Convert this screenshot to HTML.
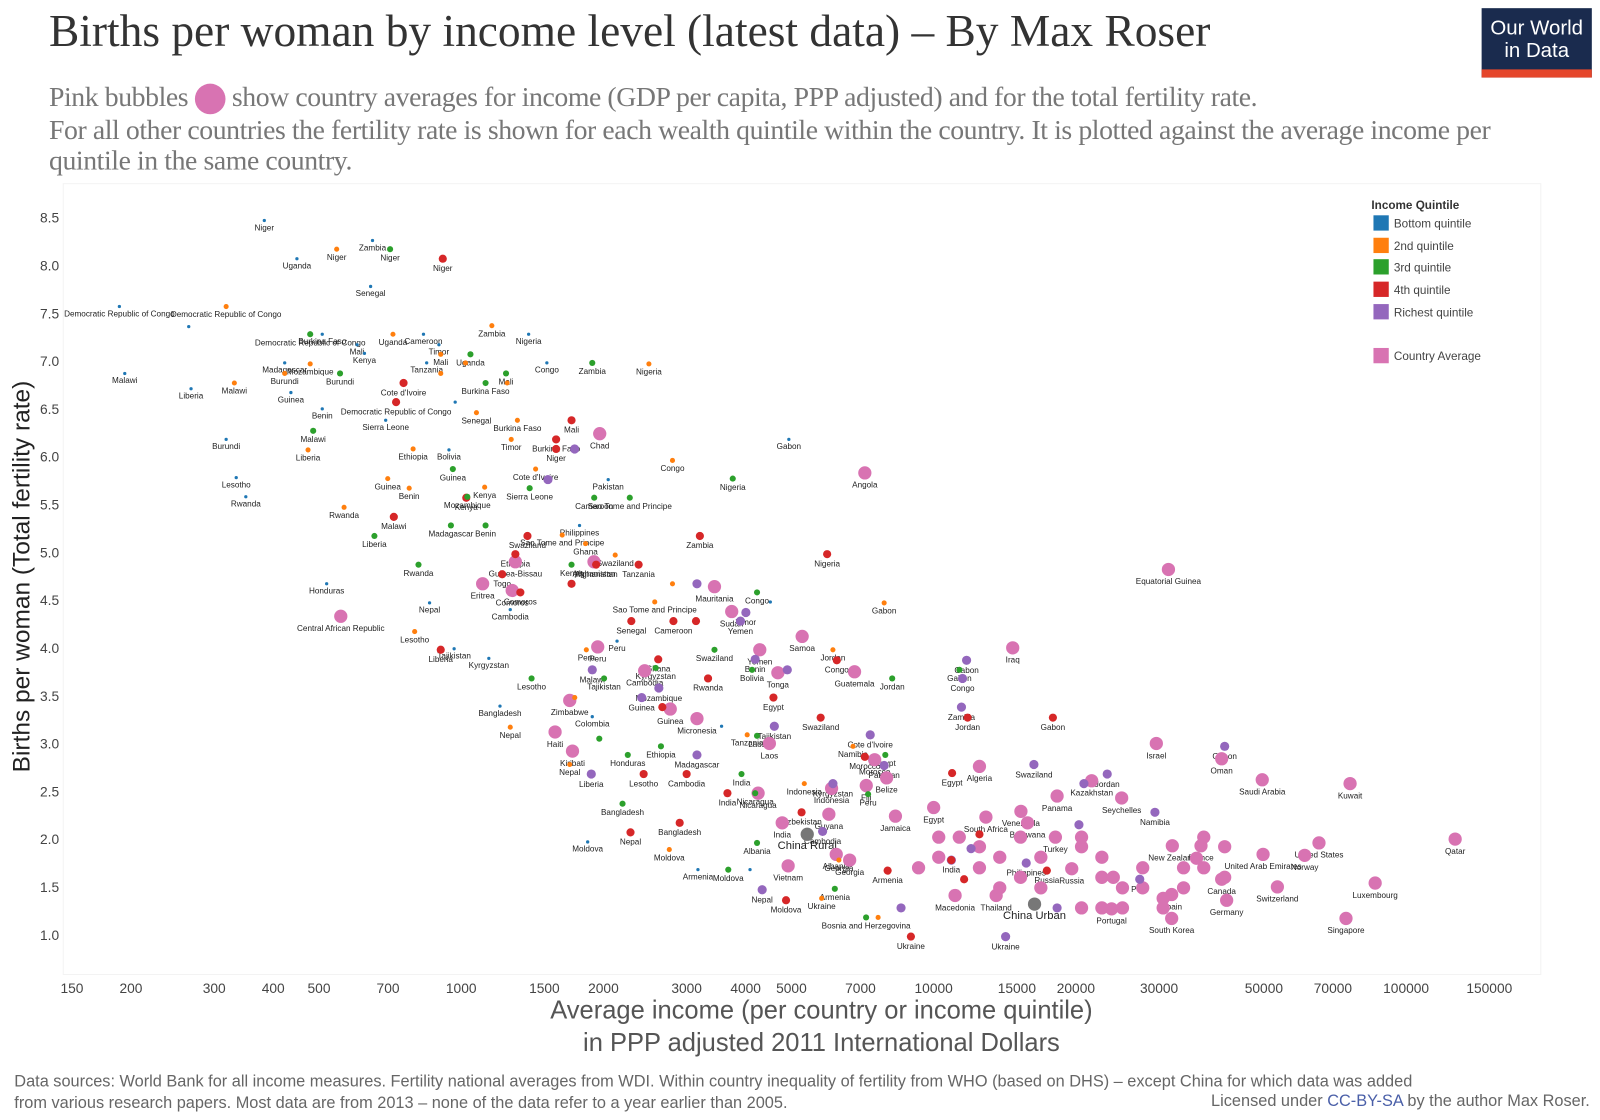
<!DOCTYPE html>
<html><head><meta charset="utf-8">
<style>
html,body{margin:0;padding:0;background:#fff;}
body{width:1600px;height:1120px;position:relative;overflow:hidden;font-family:"Liberation Sans",sans-serif;}
#wrap{position:absolute;left:0;top:0;width:1568px;height:1098px;transform:scale(1.0204);transform-origin:0 0;}
.title{position:absolute;left:48px;top:4px;font-family:"Liberation Serif",serif;font-size:44.5px;color:#333;white-space:nowrap;}
.sub{position:absolute;left:48px;top:80px;font-family:"Liberation Serif",serif;font-size:27.2px;color:#777;line-height:30px;width:1520px;white-space:nowrap;letter-spacing:-0.4px;}
.logo{position:absolute;left:1452px;top:8px;width:108px;height:68px;background:#1a2b4e;color:#fff;text-align:center;font-size:20px;line-height:22px;}
.logo .bar{position:absolute;left:0;bottom:0;width:108px;height:8px;background:#e5462b;}
.foot{position:absolute;left:14px;top:1050px;font-size:16px;color:#666;line-height:21px;}
.lic{position:absolute;right:10px;top:1071px;font-size:16px;color:#666;}
</style></head><body>
<div id="wrap">
<div class="title">Births per woman by income level (latest data) – By Max Roser</div>
<div class="logo"><div style="padding-top:9px">Our World<br>in Data</div><div class="bar"></div></div>
<div class="sub">Pink bubbles <span style="display:inline-block;width:30px;height:30px;border-radius:50%;background:#d873b2;vertical-align:-8px"></span> show country averages for income (GDP per capita, PPP adjusted) and for the total fertility rate.<br>For all other countries the fertility rate is shown for each wealth quintile within the country. It is plotted against the average income per<br>quintile in the same country.</div>
<svg id="chart" width="1568" height="1098" style="position:absolute;left:0;top:0" xmlns="http://www.w3.org/2000/svg"></svg>
<div class="foot">Data sources: World Bank for all income measures. Fertility national averages from WDI. Within country inequality of fertility from WHO (based on DHS) – except China for which data was added<br>from various research papers. Most data are from 2013 – none of the data refer to a year earlier than 2005.</div>
<div class="lic">Licensed under <span style="color:#4a5fa8">CC-BY-SA</span> by the author Max Roser.</div>
</div>
<script>
const xTicks=[150,200,300,400,500,700,1000,1500,2000,3000,4000,5000,7000,10000,15000,20000,30000,50000,70000,100000,150000];
const yTicks=[1.0,1.5,2.0,2.5,3.0,3.5,4.0,4.5,5.0,5.5,6.0,6.5,7.0,7.5,8.0,8.5];
const q1Income=[383,649,449,189,265,508,602,832,897,1389,423,194,624,845,1518,268,436,508,971,692,318,942,4937,334,350,2047,1780,519,857,1270,4511,1144,2137,966,1208,1894,3557,1852,3170,4086,643];
const q1Fert=[8.47,8.26,8.07,7.57,7.36,7.28,7.17,7.28,7.17,7.28,6.98,6.87,7.08,6.98,6.98,6.71,6.67,6.5,6.57,6.38,6.18,6.07,6.18,5.78,5.58,5.76,5.28,4.67,4.47,4.4,4.48,3.89,4.07,3.99,3.39,3.28,3.18,1.97,1.68,1.68,7.78];
const q1Label=["Niger","Zambia","Uganda","Democratic Republic of Congo","","Burkina Faso","Mali","Cameroon","Timor","Nigeria","Madagascar","Malawi","Kenya","Tanzania","Congo","Liberia","Guinea","Benin","","Sierra Leone","Burundi","Bolivia","Gabon","Lesotho","Rwanda","Pakistan","Philippines","Honduras","Nepal","Cambodia","","Kyrgyzstan","Peru","Tajikistan","Bangladesh","Colombia","","Moldova","Armenia","","Senegal"];
const q2Income=[545,318,1161,717,905,479,2496,423,331,1251,1077,1315,1276,474,791,2800,1437,699,776,1121,565,1636,1833,2118,2568,7856,2800,797,6120,1840,1739,1270,1697,4030,5323,6300,2757,5793,7628,6750,905,1021];
const q2Fert=[8.17,7.57,7.37,7.28,7.07,6.97,6.97,6.87,6.77,6.77,6.46,6.38,6.18,6.07,6.08,5.96,5.87,5.77,5.67,5.68,5.47,5.18,5.09,4.97,4.48,4.47,4.67,4.17,3.98,3.98,3.48,3.17,2.78,3.09,2.58,1.78,1.89,1.38,1.18,2.97,6.87,6.98];
const q2Label=["Niger","Democratic Republic of Congo","Zambia","Uganda","Mali","Mozambique","Nigeria","Burundi","Malawi","","Senegal","Burkina Faso","Timor","Liberia","Ethiopia","Congo","Cote d'Ivoire","Guinea","Benin","Kenya","Rwanda","Sao Tome and Principe","Ghana","Swaziland","Sao Tome and Principe","Gabon","","Lesotho","Jordan","Peru","","Nepal","Nepal","Tanzania","Indonesia","Georgia","Moldova","Ukraine","","Namibia","",""];
const q3Income=[707,479,1046,1244,554,1894,1126,486,960,1396,3756,1912,1030,951,1126,655,812,2274,1712,4228,3436,2006,1409,2580,8170,11336,4127,2252,2647,2195,3920,4228,6177,3675,4228,7900,7265,7194,4190,1960];
const q3Fert=[8.17,7.28,7.07,6.87,6.87,6.98,6.77,6.27,5.87,5.67,5.77,5.57,5.58,5.28,5.28,5.17,4.87,5.57,4.87,4.58,3.98,3.68,3.68,3.79,3.68,3.77,3.77,2.88,2.97,2.37,2.68,3.08,1.48,1.68,1.96,2.88,2.47,1.18,2.48,3.05];
const q3Label=["Niger","Democratic Republic of Congo","Uganda","Mali","Burundi","Zambia","Burkina Faso","Malawi","Guinea","Sierra Leone","Nigeria","Cameroon","Mozambique","Madagascar","Benin","Liberia","Rwanda","Sao Tome and Principe","Kenya","Congo","Swaziland","Tajikistan","Lesotho","Kyrgyzstan","Jordan","Gabon","Bolivia","Honduras","Ethiopia","Bangladesh","India","Laos","Armenia","Moldova","Albania","Egypt","Peru","Bosnia and Herzegovina","Nicaragua",""];
const q4Income=[914,755,728,1712,1588,1588,720,1025,1381,1302,3200,5950,2374,1221,1334,1930,1712,2291,2813,3140,905,2612,6237,3330,4580,5765,2665,11800,17880,3000,2433,3660,2900,2282,5253,4870,8950,10940,7150,10900,7990,17360,12500,11600];
const q4Fert=[8.07,6.77,6.57,6.38,6.18,6.08,5.37,5.57,5.17,4.98,5.17,4.98,4.87,4.77,4.58,4.87,4.67,4.28,4.28,4.28,3.98,3.88,3.87,3.68,3.48,3.27,3.38,3.27,3.27,2.68,2.68,2.48,2.17,2.07,2.28,1.36,0.98,2.69,2.86,1.78,1.67,1.67,2.05,1.58];
const q4Label=["Niger","Cote d'Ivoire","Democratic Republic of Congo","Mali","Burkina Faso","Niger","Malawi","Kenya","Swaziland","Ethiopia","Zambia","Nigeria","Tanzania","Togo","Comoros","Afghanistan","","Senegal","Cameroon","","Liberia","Ghana","Congo","Rwanda","Egypt","Swaziland","","Jordan","Gabon","Cambodia","Lesotho","India","Bangladesh","Nepal","Uzbekistan","Moldova","Ukraine","Egypt","Morocco","India","Armenia","Russia","",""];
const q5Income=[1738,1526,3155,4004,3900,4190,4900,1894,2620,2410,4600,7340,3155,7856,11450,11740,11510,41300,16300,23300,20800,29400,5820,27300,14200,8530,4335,18250,1885,6120,10900,15700,20300,12000];
const q5Fert=[6.08,5.76,4.67,4.37,4.28,3.88,3.77,3.77,3.58,3.48,3.18,3.09,2.88,2.77,3.38,3.87,3.68,2.97,2.78,2.68,2.58,2.28,2.08,1.58,0.98,1.28,1.47,1.28,2.68,2.58,1.78,1.75,2.15,1.9];
const q5Label=["","","","Timor","Yemen","Benin","","Malawi","Mozambique","Guinea","Tajikistan","Cote d'Ivoire","Madagascar","Pakistan","Zambia","Gabon","Congo","Gabon","Swaziland","Jordan","","Namibia","Cambodia","Peru","Ukraine","","Nepal","","Liberia","Kyrgyzstan","","Philippines","",""];
const avgIncome=[1964,7150,31400,556,1110,1302,1282,1910,3436,3737,4285,5268,14700,4680,6800,1697,2445,1945,3155,2770,1580,1720,4490,4250,29600,40700,49600,76100,127000,74600,86000,53400,65400,61000,49800,41700,31900,31900,23800,40700,36800,32000,18250,15300,12900,15800,12500,10000,18100,19600,13560,11100,6000,7950,7200,8300,7500,4780,4920,6640,6080,21600,25000,6220,20560,22700,22700,25100,27700,30600,33800,37300,41300,37300,25100,22700,20560,16860,15270,13800,12500,11330,10250,9290,13800,16860,20560,27700,33800,41300,30600,12500,10250,15270,24000,36000];
const avgFert=[6.24,5.83,4.82,4.33,4.67,4.9,4.6,4.9,4.64,4.38,3.98,4.12,4.0,3.74,3.75,3.45,3.76,4.01,3.26,3.36,3.12,2.92,3.0,2.48,3.0,2.84,2.62,2.58,2.0,1.17,1.54,1.5,1.96,1.83,1.84,1.36,1.42,1.17,1.27,1.58,1.93,1.93,2.45,2.29,2.23,2.17,2.76,2.33,2.02,1.69,1.41,1.41,2.26,2.64,2.56,2.24,2.83,2.17,1.72,1.78,2.53,2.61,2.43,1.84,1.92,1.81,1.6,1.49,1.49,1.38,1.49,1.7,1.92,2.02,1.28,1.28,1.28,1.49,1.6,1.81,1.92,2.02,1.81,1.7,1.49,1.81,2.02,1.7,1.7,1.6,1.28,1.7,2.02,2.02,1.6,1.8];
const avgLabel=["Chad","Angola","Equatorial Guinea","Central African Republic","Eritrea","Guinea-Bissau","Comoros","Afghanistan","Mauritania","Sudan","Yemen","Samoa","Iraq","Tonga","Guatemala","Zimbabwe","Cambodia","Peru","Micronesia","Guinea","Haiti","Kiribati","Laos","Nicaragua","Israel","Oman","Saudi Arabia","Kuwait","Qatar","Singapore","Luxembourg","Switzerland","United States","Norway","United Arab Emirates","Germany","Spain","South Korea","Portugal","Canada","France","New Zealand","Panama","Venezuela","South Africa","Botswana","Algeria","Egypt","Turkey","Russia","Thailand","Macedonia","Guyana","Belize","Fiji","Jamaica","Morocco","India","Vietnam","Georgia","Indonesia","Kazakhstan","Seychelles","Albania","","","","","","","","","","","","","","","","","","","","","","","","","","","","","","",""];
const chinaIncome=[5400,16350];
const chinaFert=[2.05,1.32];
const chinaLabel=["China Rural","China Urban"];

const NS="http://www.w3.org/2000/svg";
const svg=document.getElementById('chart');
function X(v){return 452+(Math.log10(v)-3)*463;}
function Y(v){return 916-(v-1)*93.7;}
function mk(tag,attrs,parent){const e=document.createElementNS(NS,tag);for(const k in attrs)e.setAttribute(k,attrs[k]);(parent||svg).appendChild(e);return e;}

const bg=mk('rect',{x:62,y:180,width:1448,height:775,fill:'#fff',stroke:'#f3f3f3'});



xTicks.forEach(t=>{const e=mk('text',{x:X(t),y:973,'text-anchor':'middle','font-size':13.5,fill:'#444'});e.textContent=t;

});
yTicks.forEach(t=>{const e=mk('text',{x:58,y:Y(t)+5,'text-anchor':'end','font-size':13.5,fill:'#444'});e.textContent=t.toFixed(1);

});

const yt=mk('text',{x:0,y:0,transform:'translate(29,565) rotate(-90)','text-anchor':'middle','font-size':24,fill:'#222'});
yt.textContent='Births per woman (Total fertility rate)';


const xt1=mk('text',{x:805,y:998,'text-anchor':'middle','font-size':25,fill:'#555'});
xt1.textContent='Average income (per country or income quintile)';


const xt2=mk('text',{x:805,y:1030,'text-anchor':'middle','font-size':25,fill:'#555'});
xt2.textContent='in PPP adjusted 2011 International Dollars';



const gL=mk('g',{}),gM=mk('g',{});
function series(inc,fe,lab,color,r,name,fs){
  inc.forEach((v,i)=>{
    const c=mk('circle',{cx:X(v),cy:Y(fe[i]),r:r,fill:color},gM);
    
    
    if(lab[i]){const t=mk('text',{x:X(v),y:Y(fe[i])+r+8,'text-anchor':'middle','font-size':fs||8,fill:'#222'},gL);t.textContent=lab[i];
    
    }
  });
}
series(avgIncome,avgFert,avgLabel,'#d873b2',6.5,'country-average-bubble');
series(q5Income,q5Fert,q5Label,'#9467bd',4.5,'richest-quintile-point');
series(q4Income,q4Fert,q4Label,'#d62728',4,'4th-quintile-point');
series(q3Income,q3Fert,q3Label,'#2ca02c',3,'3rd-quintile-point');
series(q2Income,q2Fert,q2Label,'#ff7f0e',2.5,'2nd-quintile-point');
series(q1Income,q1Fert,q1Label,'#1f77b4',1.6,'bottom-quintile-point');
series(chinaIncome,chinaFert,chinaLabel,'#777',6.5,'china-bubble',11);

const legItems=[['Bottom quintile','#1f77b4',219],['2nd quintile','#ff7f0e',241],['3rd quintile','#2ca02c',262],['4th quintile','#d62728',284],['Richest quintile','#9467bd',306],['Country Average','#d873b2',349]];
const lt=mk('text',{x:1344,y:205,'font-size':11.5,'font-weight':'bold',fill:'#333'});lt.textContent='Income Quintile';


legItems.forEach(([n,c,y])=>{const g=mk('g',{});


mk('rect',{x:1346,y:y-8,width:15,height:15,fill:c},g);const t=mk('text',{x:1366,y:y+4,'font-size':11.5,fill:'#444'},g);t.textContent=n;});
</script>
</body></html>
